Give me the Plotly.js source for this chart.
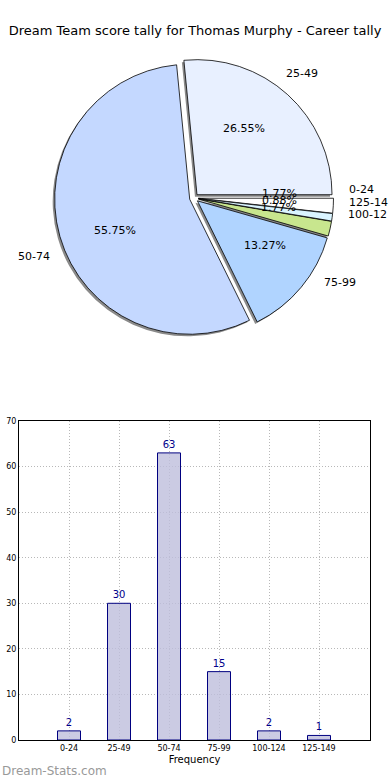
<!DOCTYPE html>
<html>
<head>
<meta charset="utf-8">
<script src="https://cdn.plot.ly/plotly-3.0.1.min.js"></script>
<style>html,body{margin:0;padding:0;background:#fff;}#chart{width:390px;height:780px;}</style>
</head>
<body>
<div id="chart"></div>
<script>
const categories = ['0-24', '25-49', '50-74', '75-99', '100-124', '125-149'];
const pieLabels = ['0-24', '25-49', '50-74', '75-99', '100-12', '125-14'];
const counts = [2, 30, 63, 15, 2, 1];
const sliceColors = ['#ffffff', '#e8f0ff', '#c4d8ff', '#b0d4ff', '#c8e68e', '#daf4ff'];
const yTicks = [0, 10, 20, 30, 40, 50, 60, 70];

const W = 390, H = 780;
const px = v => v / W;
const py = v => 1 - v / H;

const pull = 0.033;
const cx = 194, cy = 198, half = 139.5;
const R = half / (1 + pull);   // pie radius in px, as plotly computes it
const pieDomain = {x: [px(cx - half), px(cx + half)], y: [py(cy + half), py(cy - half)]};
const shadowDomain = {x: [px(cx - half - 2), px(cx + half - 2)], y: [py(cy + half + 2), py(cy - half + 2)]};

const common = {
  type: 'pie', values: counts, labels: pieLabels, sort: false,
  direction: 'counterclockwise', rotation: 90, pull: pull,
  hoverinfo: 'skip', showlegend: false, textinfo: 'none'
};

const shadow = Object.assign({}, common, {
  domain: shadowDomain,
  marker: {colors: counts.map(() => '#8a8a8a'), line: {width: 0}}
});
const main = Object.assign({}, common, {
  domain: pieDomain,
  marker: {colors: sliceColors, line: {color: '#000', width: 0.8}}
});

// label / percent positions derived from the slice angles (matplotlib-style placement)
const total = counts.reduce((a, b) => a + b, 0);
let cum = 0;
const mids = counts.map(v => { const m = (cum + v / 2) / total * 2 * Math.PI; cum += v; return m; });
const pct = counts.map(v => (100 * v / total).toFixed(2) + '%');
const at = (d, f) => mids.map(a => f(a) * (pull + d));
const pxs = at(0.6, Math.cos), pys = at(0.6, Math.sin);
const lxs = at(1.1, Math.cos), lys = at(1.1, Math.sin);

// invisible anchor trace so the overlay axes exist
const anchorTrace = {
  type: 'scatter', mode: 'markers', xaxis: 'x2', yaxis: 'y2',
  x: lxs, y: lys, marker: {size: 1, opacity: 0},
  hoverinfo: 'skip', showlegend: false
};

const txtFont = {family: 'DejaVu Sans', size: 11, color: '#000'};
const annots = [];
pct.forEach((t, i) => annots.push({
  text: t, xref: 'x2', yref: 'y2', x: pxs[i], y: pys[i],
  xanchor: 'center', yanchor: 'middle', showarrow: false, font: txtFont
}));
pieLabels.forEach((t, i) => annots.push({
  text: t, xref: 'x2', yref: 'y2', x: lxs[i], y: lys[i],
  xanchor: lxs[i] >= 0 ? 'left' : 'right', yanchor: 'middle', showarrow: false, font: txtFont
}));
annots.push({
  text: 'Dream-Stats.com', xref: 'paper', yref: 'paper',
  x: 0, y: 0, xanchor: 'left', yanchor: 'bottom', showarrow: false,
  font: {family: 'DejaVu Sans', size: 12, color: '#999'}
});

const bars = {
  type: 'bar', x: categories, y: counts, xaxis: 'x', yaxis: 'y',
  width: 0.46,
  marker: {color: 'rgba(190,190,220,0.8)', line: {color: '#000080', width: 1}},
  text: counts.map(String), textposition: 'outside', cliponaxis: false,
  textfont: {family: 'DejaVu Sans', size: 10, color: '#00008b'},
  hoverinfo: 'skip', showlegend: false
};

const ovTop = 50, ovBot = 370;
const layout = {
  width: W, height: H,
  margin: {l: 0, r: 0, t: 0, b: 0},
  paper_bgcolor: '#fff', plot_bgcolor: 'rgba(0,0,0,0)',
  font: {family: 'DejaVu Sans', color: '#000'},
  title: {text: 'Dream Team score tally for Thomas Murphy - Career tally',
          x: 0.5, xanchor: 'center', y: py(30), yanchor: 'middle',
          font: {family: 'DejaVu Sans', size: 13, color: '#000'}},
  xaxis: {
    domain: [px(19), px(370)], anchor: 'y',
    type: 'category', range: [-1, 6.02],
    showgrid: true, gridcolor: '#b8b8b8', griddash: '1px,2px', gridwidth: 1,
    showline: true, linecolor: '#000', linewidth: 1, mirror: true,
    ticks: '', layer: 'above traces',
    tickfont: {family: 'DejaVu Sans', size: 8, color: '#000'},
    title: {text: 'Frequency', standoff: 4, font: {family: 'DejaVu Sans', size: 10}},
    zeroline: false, fixedrange: true
  },
  yaxis: {
    domain: [py(740), py(421)], anchor: 'x',
    range: [0, 70], tickvals: yTicks,
    showgrid: true, gridcolor: '#b8b8b8', griddash: '1px,2px', gridwidth: 1,
    showline: true, linecolor: '#000', linewidth: 1, mirror: true,
    ticks: '', layer: 'above traces',
    tickfont: {family: 'DejaVu Sans', size: 8, color: '#000'},
    zeroline: false, fixedrange: true
  },
  xaxis2: {domain: [0, 1], anchor: 'y2', range: [-cx / R, (W - cx) / R], visible: false, fixedrange: true},
  yaxis2: {domain: [py(ovBot), py(ovTop)], anchor: 'x2', range: [-(ovBot - cy) / R, (cy - ovTop) / R], visible: false, fixedrange: true},
  annotations: annots
};

Plotly.newPlot('chart', [anchorTrace, shadow, main, bars], layout, {staticPlot: true, displayModeBar: false});
</script>
</body>
</html>
